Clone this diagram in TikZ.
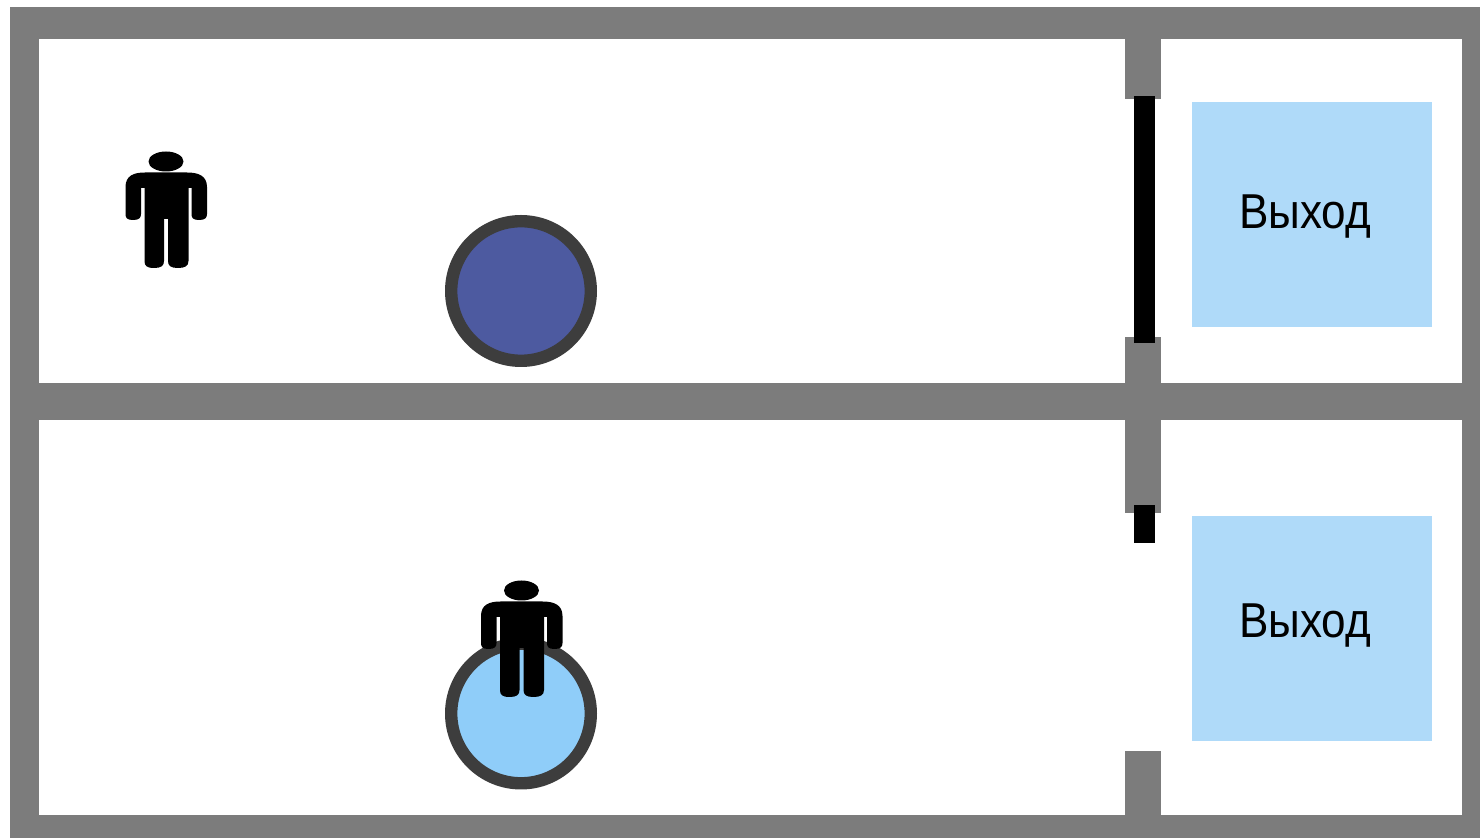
\documentclass[tikz,border=0pt]{standalone}
\usepackage{fontspec}
\setmainfont[FakeStretch=0.9]{Liberation Sans}
\definecolor{wallgray}{HTML}{7C7C7C}
\definecolor{exitblue}{HTML}{AFDAF9}
\definecolor{ringgray}{HTML}{3D3D3D}
\definecolor{darkdisc}{HTML}{4D5AA0}
\definecolor{lightdisc}{HTML}{8FCDF9}
\tikzset{
  x=0.5pt,y=-0.5pt,
  wall/.style={fill=wallgray,draw=none},
  room/.style={fill=white,draw=none},
  doorbar/.style={fill=black,draw=none},
  exitbox/.style={fill=exitblue,draw=none,minimum width=120.25pt,minimum height=112.5pt,inner sep=0pt},
  exitlabel/.style={font=\fontsize{24.5}{28}\selectfont,text=black,inner sep=0pt,anchor=base},
  disc/.style={draw=ringgray,line width=6.2pt,circle,minimum size=69.8pt,inner sep=0pt},
  person/.pic={
    \fill[black] (166,161.5) ellipse [x radius=17.5,y radius=10];
    \fill[black]
      (145,172.5) .. controls (134,172.5) and (125.5,175.5) .. (125.5,187)
      -- (125.5,214) .. controls (125.5,218) and (127,220) .. (133,220)
      .. controls (139,220) and (141,218) .. (141,214) -- (141,188) -- (144.5,188)
      -- (144.5,261) .. controls (144.5,266) and (147,268) .. (154,268)
      .. controls (161,268) and (164,266) .. (164,261) -- (164,219) -- (168,219)
      -- (168,261) .. controls (168,266) and (171,268) .. (178,268)
      .. controls (185,268) and (188.5,266) .. (188.5,261) -- (188.5,188) -- (191.5,188)
      -- (191.5,214) .. controls (191.5,218) and (193,220) .. (199,220)
      .. controls (205,220) and (207,218) .. (207,214) -- (207,187)
      .. controls (207,175.5) and (198,172.5) .. (187,172.5) -- cycle;
  }
}
\begin{document}
\begin{tikzpicture}
\useasboundingbox (0,0) rectangle (1480,838);
\fill[white] (0,0) rectangle (1480,838);
% walls
\fill[wall] (10,7) rectangle (1480,838);
% rooms
\fill[room] (39,39) rectangle (1125,383);
\fill[room] (1161,39) rectangle (1462,383);
\fill[room] (39,420) rectangle (1125,815);
\fill[room] (1161,420) rectangle (1462,815);
% door openings between the stubs
\fill[room] (1120,99) rectangle (1166,337.5);
\fill[room] (1120,513) rectangle (1166,751);
% doors
\fill[doorbar] (1134,96) rectangle (1155,343);
\fill[doorbar] (1134,505) rectangle (1155,543);
% exits
\node[exitbox] (exitA) at (1311.75,214.5) {};
\node[exitbox] (exitB) at (1311.75,628.5) {};
\node[exitlabel] (labelA) at (1305,229) {Выход};
\node[exitlabel] (labelB) at (1305,638) {Выход};
% discs
\node[disc,fill=darkdisc] (discA) at (521,291) {};
\node[disc,fill=lightdisc] (discB) at (521,713.5) {};
% people
\pic {person};
\pic at (355.5,429) {person};
\end{tikzpicture}
\end{document}
